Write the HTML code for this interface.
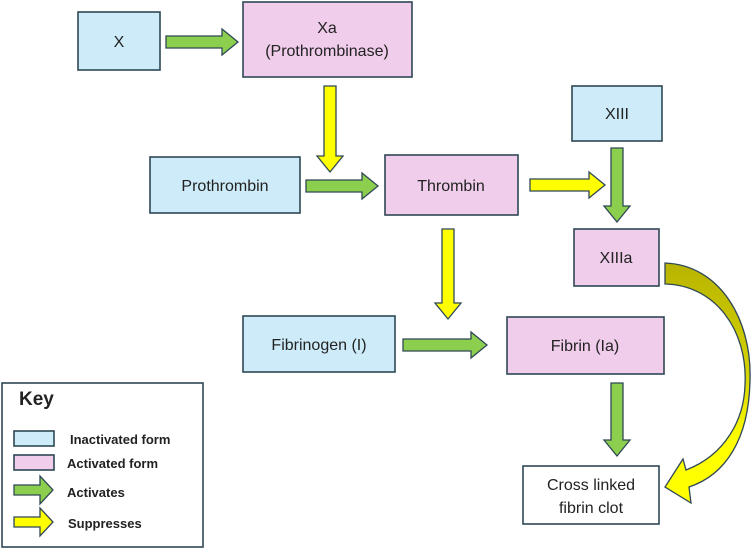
<!DOCTYPE html>
<html><head><meta charset="utf-8"><style>
html,body{margin:0;padding:0;background:#fff}
svg{display:block}
text{font-family:"Liberation Sans",Arial,sans-serif;fill:#222}
</style></head><body>
<svg width="751" height="549" viewBox="0 0 751 549" xmlns="http://www.w3.org/2000/svg">
<defs>
<linearGradient id="cg" x1="0" y1="0" x2="0" y2="1">
<stop offset="0" stop-color="#b8b400"/><stop offset="0.45" stop-color="#d4d200"/><stop offset="0.75" stop-color="#ffff00"/><stop offset="1" stop-color="#ffff00"/>
</linearGradient>
</defs>
<g stroke="#2f4856" stroke-width="1.6">
<rect x="78" y="12" width="82" height="58" fill="#cdebf8"/>
<rect x="243" y="2" width="169" height="75" fill="#f0cdeb"/>
<rect x="150" y="157" width="150" height="56" fill="#cdebf8"/>
<rect x="385" y="155" width="133" height="60" fill="#f0cdeb"/>
<rect x="572" y="86" width="90" height="55" fill="#cdebf8"/>
<rect x="574" y="229" width="85" height="57" fill="#f0cdeb"/>
<rect x="243" y="316" width="152" height="56" fill="#cdebf8"/>
<rect x="507" y="317" width="157" height="57" fill="#f0cdeb"/>
<rect x="523" y="466" width="136" height="58" fill="#fff"/>
<rect x="2" y="383" width="201" height="164" fill="#fff"/>
<rect x="14" y="431" width="40" height="15" fill="#cdebf8"/>
<rect x="14" y="455" width="40" height="15" fill="#f0cdeb"/>
</g>
<g stroke="#2f4856" stroke-width="1.3">
<path fill="#8ccf4e" d="M166,36 h56 v-7 l16,13 l-16,13 v-7 h-56 z"/>
<path fill="#8ccf4e" d="M306,180 h56 v-7 l16,13 l-16,13 v-7 h-56 z"/>
<path fill="#8ccf4e" d="M403,339 h68 v-7 l16,13 l-16,13 v-7 h-68 z"/>
<path fill="#8ccf4e" d="M14,485 h26 v-9 l13,14 l-13,14 v-9 h-26 z"/>
<path fill="#ffff00" d="M530,179 h59 v-7 l16,13 l-16,13 v-7 h-59 z"/>
<path fill="#ffff00" d="M14,517 h26 v-9 l13,14 l-13,14 v-9 h-26 z"/>
<path fill="#ffff00" d="M324,86 h12 v70 h7 l-13,16 l-13,-16 h7 z"/>
<path fill="#ffff00" d="M442,229 h12 v74 h7 l-13,16 l-13,-16 h7 z"/>
<path fill="#8ccf4e" d="M611,148 h12 v58 h7 l-13,16 l-13,-16 h7 z"/>
<path fill="#8ccf4e" d="M611,383 h12 v57 h7 l-13,16 l-13,-16 h7 z"/>
<path fill="url(#cg)" d="M665,263 C720,265 752,320 750,380 C749,440 725,475 689,487 L691,503 L665,487 L683,459 L686,470 C725,455 744,420 745,385 C748,330 715,285 665,284 Z"/>
</g>
<g font-size="16" text-anchor="middle">
<text x="119" y="47">X</text>
<text x="327" y="33">Xa</text>
<text x="327" y="56">(Prothrombinase)</text>
<text x="225" y="191">Prothrombin</text>
<text x="451" y="191">Thrombin</text>
<text x="617" y="119" fill="#555">XIII</text>
<text x="616" y="263" fill="#555">XIIIa</text>
<text x="319" y="350">Fibrinogen (I)</text>
<text x="585" y="351">Fibrin (Ia)</text>
<text x="591" y="490">Cross linked</text>
<text x="591" y="513">fibrin clot</text>
</g>
<g font-weight="bold">
<text x="19" y="405" font-size="19">Key</text>
<text x="70" y="444" font-size="13">Inactivated form</text>
<text x="67" y="468" font-size="13">Activated form</text>
<text x="67" y="497" font-size="13">Activates</text>
<text x="68" y="528" font-size="13">Suppresses</text>
</g>
</svg>
</body></html>
